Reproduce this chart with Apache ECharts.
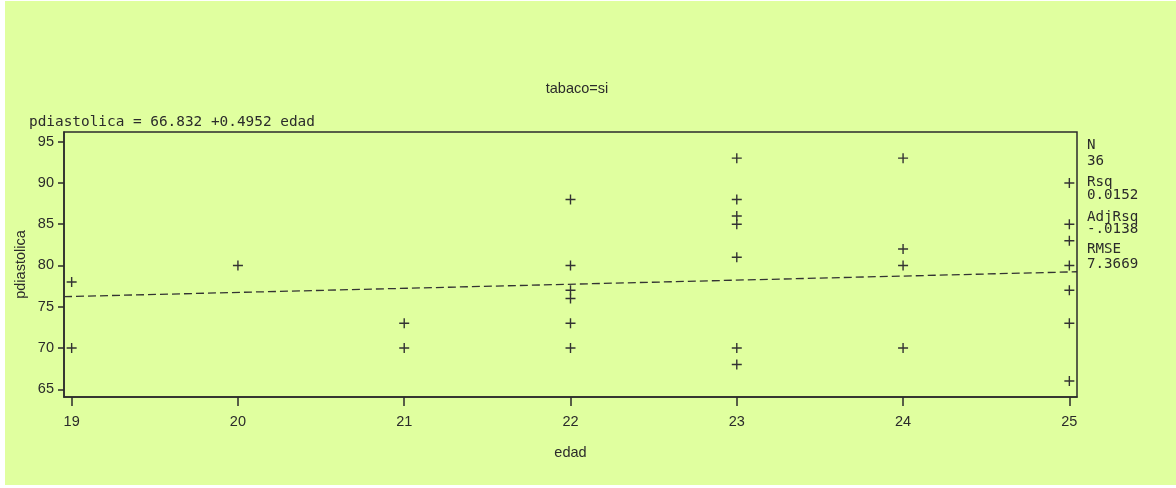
<!DOCTYPE html>
<html>
<head>
<meta charset="utf-8">
<script src="https://cdn.jsdelivr.net/npm/echarts@6/dist/echarts.min.js"></script>
<style>
  html, body { margin: 0; padding: 0; background: #ffffff; }
  #chart { position: absolute; left: 5px; top: 1px; width: 1171px; height: 484px; }
</style>
</head>
<body>
<div id="chart"></div>
<script>
// ---- data ----
const edad = [19, 19, 20, 21, 21, 22, 22, 22, 22, 22, 22, 23, 23, 23, 23, 23, 23, 23, 24, 24, 24, 24, 25, 25, 25, 25, 25, 25, 25];
const pdiastolica = [78, 70, 80, 73, 70, 88, 80, 77, 76, 73, 70, 93, 88, 86, 85, 81, 70, 68, 93, 82, 80, 70, 90, 85, 83, 80, 77, 73, 66];
const fitX = [18.954, 25.046];
const fitY = [76.22, 79.24];
const xTicks = [19, 20, 21, 22, 23, 24, 25];
const yTicks = [65, 70, 75, 80, 85, 90, 95];
const equationText = 'pdiastolica = 66.832 +0.4952 edad';
const statLabels = ['N', '36', 'Rsq', '0.0152', 'AdjRsq', '-.0138', 'RMSE', '7.3669'];
const titleText = 'tabaco=si';
const xName = 'edad';
const yName = 'pdiastolica';

const ink = '#2b2b2b';
const sans = 'Arial, "Liberation Sans", sans-serif';
const mono = '"DejaVu Sans Mono", "Liberation Mono", monospace';
const chart = echarts.init(document.getElementById('chart'));
const statY = [144, 160, 181, 194, 216, 228.5, 248, 263];

const graphics = [
  { type: 'text', x: 572, y: 87.5, style: { text: titleText, fill: ink, font: '14.5px ' + sans, textAlign: 'center', textVerticalAlign: 'middle' } },
  { type: 'text', x: 24, y: 121.5, style: { text: equationText, fill: ink, font: '14.4px ' + mono, textAlign: 'left', textVerticalAlign: 'middle' } }
];
statLabels.forEach((t, i) => {
  graphics.push({ type: 'text', x: 1082, y: statY[i], style: { text: t, fill: ink, font: '14.2px ' + mono, textAlign: 'left', textVerticalAlign: 'middle' } });
});

const option = {
  backgroundColor: '#e0ff9f',
  animation: false,
  grid: { left: 59, top: 131, width: 1013, height: 265, show: true, borderColor: ink, borderWidth: 1.5, backgroundColor: 'transparent' },
  xAxis: {
    type: 'value', min: 18.954, max: 25.046,
    name: xName, nameLocation: 'middle', nameGap: 48, nameMoveOverlap: false,
    nameTextStyle: { color: ink, fontSize: 14.5, fontFamily: sans },
    axisLine: { show: true, lineStyle: { color: ink, width: 1.5 } },
    axisTick: { show: true, customValues: xTicks, length: 9, lineStyle: { color: ink, width: 1.5 } },
    axisLabel: { customValues: xTicks, margin: 17, color: ink, fontSize: 14.5, fontFamily: sans },
    splitLine: { show: false }
  },
  yAxis: {
    type: 'value', min: 64.07, max: 96.17,
    name: yName, nameLocation: 'middle', nameGap: 36, nameRotate: 90, nameMoveOverlap: false,
    nameTextStyle: { color: ink, fontSize: 14.5, fontFamily: sans },
    axisLine: { show: true, lineStyle: { color: ink, width: 1.5 } },
    axisTick: { show: true, customValues: yTicks, length: 6, lineStyle: { color: ink, width: 1.5 } },
    axisLabel: { customValues: yTicks, margin: 10, color: ink, fontSize: 14.5, fontFamily: sans },
    splitLine: { show: false }
  },
  graphic: graphics,
  series: [
    {
      type: 'line',
      data: fitX.map((x, i) => [x, fitY[i]]),
      showSymbol: false,
      lineStyle: { color: '#333', width: 1.3, type: [8, 4] },
      z: 2
    },
    {
      type: 'scatter',
      data: edad.map((x, i) => [x, pdiastolica[i]]),
      symbol: 'path://M0,4.3H10V5.7H0Z M4.3,0H5.7V10H4.3Z',
      symbolSize: 10,
      itemStyle: { color: '#333', opacity: 1 },
      z: 3
    }
  ]
};
chart.setOption(option);
</script>
</body>
</html>
